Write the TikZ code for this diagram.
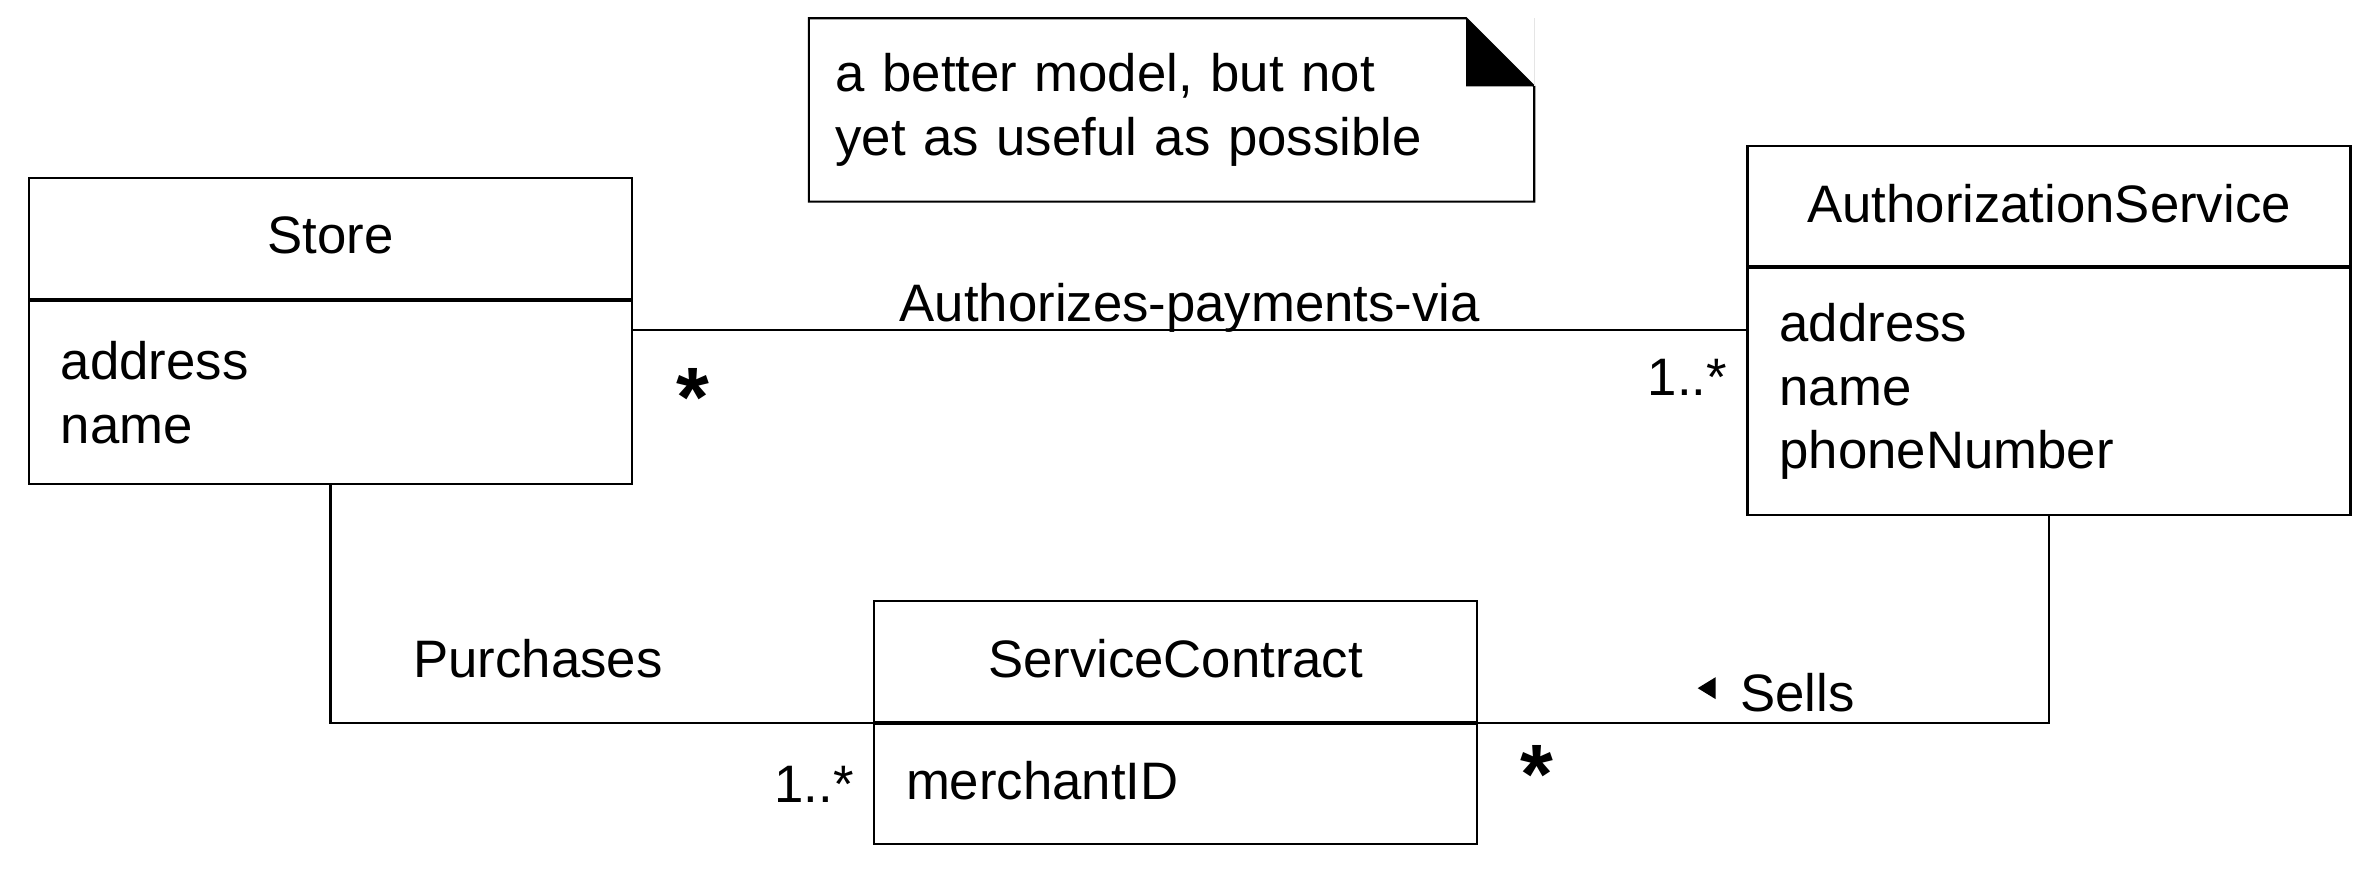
\documentclass[tikz,border=0pt]{standalone}
\usepackage{fontspec}
\setmainfont{Liberation Sans}
\usetikzlibrary{positioning,calc}

\begin{document}
\begin{tikzpicture}[
    classname/.style={draw, line width=0.6pt, minimum width=6.03cm, minimum height=1.21cm, inner sep=0pt, text depth=0.06cm, font=\fontsize{15}{18}\selectfont},
    attrs/.style={draw, line width=0.6pt, text width=5.39cm, inner xsep=0.32cm, inner ysep=0pt, align=left, font=\fontsize{15}{18}\selectfont},
    notebox/.style={minimum width=7.24cm, minimum height=1.82cm, text width=6.72cm, inner xsep=0.26cm, inner ysep=0pt, align=left, font=\fontsize{15}{18}\selectfont},
    assoc/.style={draw, line width=0.6pt},
    assoclabel/.style={inner sep=0pt, font=\fontsize{15}{18}\selectfont},
    mult/.style={inner sep=0pt, font=\fontsize{15}{18}\selectfont},
    bigmult/.style={inner sep=0pt, font=\fontsize{24}{24}\selectfont\bfseries}
]
\useasboundingbox (0,0) rectangle (23.65,-8.73);

% Define class boxes
\node[classname] (store) at (3.305,-2.385) {Store};
\node[attrs, minimum height=1.83cm, below=0cm of store] (storeAttr) {address\\name};

\node[classname, minimum height=1.20cm] (authService) at (20.49,-2.06) {AuthorizationService};
\node[attrs, minimum height=2.47cm, below=0cm of authService] (authAttr) {address\\name\\phoneNumber};

\node[classname] (contract) at (11.755,-6.615) {ServiceContract};
\node[attrs, minimum height=1.20cm, text depth=0.08cm, below=0cm of contract] (contractAttr) {merchantID};

% Note with folded corner
\node[notebox] (note) at (11.715,-1.10) {a better model, but not\\yet as useful as possible};
\draw[line width=0.6pt] (note.north west) -- ([xshift=-0.68cm]note.north east) -- ([yshift=-0.68cm]note.north east) -- (note.south east) -- (note.south west) -- cycle;
\fill ([xshift=-0.68cm]note.north east) -- ([yshift=-0.68cm]note.north east) -- ([xshift=-0.68cm,yshift=-0.68cm]note.north east) -- cycle;
\draw[gray!20, line width=0.4pt] (note.north east) -- ([yshift=-0.68cm]note.north east);

% Associations
\coordinate (payLeft) at ([yshift=-0.30cm]storeAttr.north east);
\draw[assoc] (payLeft) -- (payLeft -| authAttr.west) node[assoclabel, midway, anchor=base, yshift=0.9mm] (payLabel) {Authorizes-payments-via};
\draw[assoc] (storeAttr.south) |- (contract.south west);
\draw[assoc] (contract.south east) -| (authAttr.south);

% Association names
\node[assoclabel, anchor=base] (purchases) at (5.38,-6.78) {Purchases};
\node[assoclabel, anchor=base] (sells) at (17.975,-7.12) {Sells};
\fill ([xshift=-0.42cm,yshift=0.05cm]sells.west) -- ++(0.18,0.11) -- ++(0,-0.22) -- cycle;

% Multiplicities
\node[bigmult, anchor=north] (storeMult) at (6.925,-3.68) {*};
\node[mult, anchor=base] (authMult) at (16.875,-3.96) {1..*};
\node[mult, anchor=base] (contractMult) at (8.14,-8.02) {1..*};
\node[bigmult, anchor=north] (sellsMult) at (15.365,-7.45) {*};

\end{tikzpicture}
\end{document}
